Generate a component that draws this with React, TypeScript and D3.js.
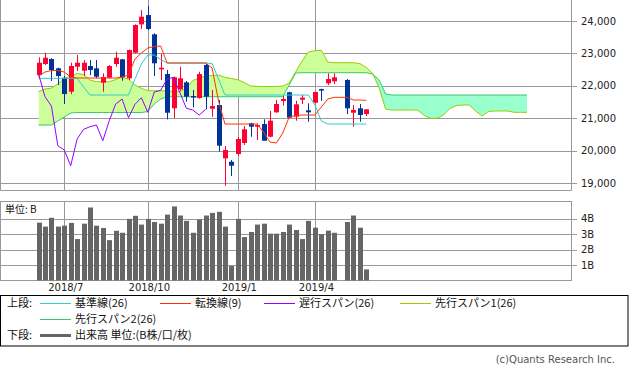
import React, { useRef, useEffect } from 'react';
import * as d3 from 'd3';

// weekly candles, index 0..51 (47 = holiday week with no trading)
const opens = [22332, 22672, 22826, 22539, 22249, 21817, 22589, 22465, 22610, 22539, 22095, 22249, 22672, 22817, 22231, 23021, 23897, 24184, 23588, 22508, 22363, 21305, 21891, 22107, 21684, 21623, 22641, 21293, 21407, 19762, 19657, 19895, 20234, 20842, 20737, 20820, 20428, 21181, 21530, 21799, 21046, 21570, 21243, 21478, 21900, 22076, 22138, null, 22178, 21169, 21305, 21129];
const highs = [22879, 23021, 22850, 22560, 22302, 22712, 22950, 22795, 22795, 22795, 22385, 22641, 23052, 22830, 23120, 23897, 24338, 24471, 23619, 22981, 22487, 22286, 22589, 22147, 21870, 22434, 22712, 21870, 21561, 20141, 19709, 20419, 20759, 20860, 20842, 20965, 21222, 21561, 21684, 21817, 21539, 21715, 21459, 21817, 21910, 22385, 22385, null, 22209, 21407, 21438, 21274];
const lows = [22262, 22641, 22147, 22024, 21438, 21737, 22456, 22302, 22332, 22231, 21817, 22231, 22589, 22157, 22178, 23002, 23752, 23721, 22302, 22178, 20965, 21006, 21848, 21509, 21336, 21601, 21274, 21046, 19966, 18916, 19216, 19833, 20172, 20428, 20327, 20305, 20410, 21170, 21385, 20996, 20922, 21438, 20891, 21459, 21539, 22024, 22055, null, 21129, 20737, 20891, 21067];
const closes = [22712, 22866, 22487, 22302, 21746, 22610, 22712, 22712, 22487, 22280, 22271, 22610, 22866, 22262, 23104, 23876, 24132, 23752, 22694, 22558, 21169, 22262, 22231, 21663, 21644, 22363, 21663, 21376, 20151, 20018, 19534, 20357, 20657, 20737, 20790, 20305, 20922, 21438, 21592, 21015, 21428, 21632, 21181, 21808, 21860, 22209, 22262, null, 21305, 21252, 21098, 21274];
const volumes = [3.76, 3.5, 4.07, 3.5, 3.56, 3.74, 2.69, 3.69, 4.74, 3.56, 3.41, 2.62, 3.23, 3.1, 4.0, 4.2, 3.63, 4.0, 3.8, 3.69, 4.28, 4.81, 4.22, 3.87, 3.1, 3.96, 4.22, 4.39, 4.46, 3.5, 0.94, 4.0, 2.82, 3.15, 3.63, 3.69, 3.04, 3.04, 3.15, 3.63, 3.28, 2.69, 3.87, 3.43, 3.0, 3.24, 3.1, null, 3.8, 4.22, 3.43, 0.72];

const tenkan = [22302, 22425, 22471, 22471, 22425, 22271, 22240, 22240, 22240, 22240, 22240, 22240, 22240, 22271, 22332, 22826, 23011, 23166, 23212, 23227, 22703, 22703, 22703, 22703, 22703, 22703, 22703, 22549, 21530, 20820, 20820, 20820, 20820, 20820, 20820, 20573, 20265, 20234, 20543, 21036, 21083, 21098, 21098, 21098, 21345, 21592, 21644, null, 21644, 21561, 21561, 21552];
const kijun = [22231, 22231, 22231, 22231, 22231, 22231, 22231, 21962, 21715, 21715, 21715, 21715, 21715, 21715, 21715, 22209, 22672, 22950, 22950, 22811, 22703, 22703, 22703, 22703, 22703, 22703, 22703, 22687, 22209, 21715, 21715, 21715, 21715, 21715, 21715, 21715, 21715, 21715, 21715, 21715, 21715, 21715, 21715, 21407, 20913, 20820, 20820, null, 20820, 20820, 20820, 20820];
// leading spans, index 0..76
const span1 = [21817, 21900, 21931, 22055, 22209, 22317, 22379, 22348, 22178, 22126, 22126, 22126, 22194, 22262, 22200, 22024, 21922, 21848, 21848, 21848, 21839, 21823, 21817, 21931, 22163, 22240, 22302, 22317, 22332, 22262, 22225, 22188, 22101, 21993, 21984, 21978, 21978, 21978, 21993, 22086, 22425, 22765, 23042, 23082, 23095, 22734, 22712, 22712, 22712, 22712, 22687, 22564, 22379, 21931, 21283, 21252, 21252, 21252, 21252, 21252, 21083, 20996, 20996, 21098, 21299, 21391, 21407, 21407, 21222, 21067, 21206, 21222, 21222, 21222, 21181, 21181, 21181];
const span2 = [20790, 20790, 20790, 20913, 21036, 21160, 21175, 21175, 21175, 21175, 21175, 21175, 21175, 21175, 21175, 21175, 21175, 21206, 21438, 21592, 21663, 21663, 21663, 21663, 21663, 21663, 21663, 21663, 21663, 21663, 21663, 21663, 21663, 21663, 21663, 21663, 21663, 21663, 21663, 22024, 22394, 22404, 22404, 22404, 22404, 22404, 22404, 22404, 22404, 22404, 22404, 22404, 22363, 22178, 21746, 21715, 21715, 21715, 21715, 21715, 21715, 21715, 21715, 21715, 21715, 21715, 21715, 21715, 21715, 21715, 21715, 21715, 21715, 21715, 21715, 21715, 21715];
const LAG = 25;
const chikou = closes.slice(LAG);

const priceTicks = [19000, 20000, 21000, 22000, 23000, 24000];
const volTicks = [1, 2, 3, 4];
const dateTicks = [4, 17, 31, 43];
const dateLabels = ['2018/7', '2018/10', '2019/1', '2019/4'];

const C = {
  grid: '#999999', up: '#FF0033', down: '#003399', tenkan: '#FF3300', kijun: '#33CCCC',
  chikou: '#9900FF', s1: '#99CC00', s2: '#33CC66', fillUp: '#CCFF99', fillDn: '#99FFCC', vol: '#666666',
};
const JP = '"Noto Sans CJK JP", sans-serif';
const NUM = '"DejaVu Sans", sans-serif';

const App: React.FC = () => {
  const svgRef = useRef<SVGSVGElement | null>(null);
  useEffect(() => {
    if (!svgRef.current) return;
    const svg = d3.select(svgRef.current);
    svg.selectAll('*').remove();
    const x = d3.scaleLinear().domain([-6, 83]).range([0, 572]);
    const y = d3.scaleLinear().domain([19000, 24000]).range([183, 21]);
    const yv = d3.scaleLinear().domain([0, 4]).range([280.5, 218.9]);
    const px = (v: number) => Math.round(v) + 0.5;

    // ---- main panel grid (no top border in the original)
    priceTicks.forEach(t => {
      svg.append('line').attr('x1', 0).attr('x2', 577).attr('y1', px(y(t))).attr('y2', px(y(t))).attr('stroke', C.grid);
      svg.append('text').attr('x', 581).attr('y', y(t)).attr('dy', '0.35em').attr('font-family', NUM).attr('font-size', 10).attr('fill', '#222').text(d3.format(',')(t));
    });
    dateTicks.forEach(i => {
      svg.append('line').attr('x1', px(x(i))).attr('x2', px(x(i))).attr('y1', 0).attr('y2', 190).attr('stroke', C.grid);
      svg.append('line').attr('x1', px(x(i))).attr('x2', px(x(i))).attr('y1', 201).attr('y2', 280).attr('stroke', C.grid);
    });
    svg.append('path').attr('d', 'M0.5,0V190.5H571.5V0').attr('fill', 'none').attr('stroke', C.grid);

    const defs = svg.append('defs');
    defs.append('clipPath').attr('id', 'plot').append('rect').attr('x', 1).attr('y', 0).attr('width', 570).attr('height', 190);

    // ---- cloud
    const idx = d3.range(span1.length);
    const cloud = d3.area<number>().x(i => x(i)).y0(i => y(span2[i])).y1(i => y(span1[i]));
    defs.append('clipPath').attr('id', 'above2').append('path')
      .attr('d', d3.area<number>().x(i => x(i)).y0(0).y1(i => y(span2[i]))(idx) as string);
    defs.append('clipPath').attr('id', 'below2').append('path')
      .attr('d', d3.area<number>().x(i => x(i)).y0(190).y1(i => y(span2[i]))(idx) as string);
    svg.append('path').attr('d', cloud(idx) as string).attr('fill', C.fillUp).attr('clip-path', 'url(#above2)');
    svg.append('path').attr('d', cloud(idx) as string).attr('fill', C.fillDn).attr('clip-path', 'url(#below2)');

    const plot = svg.append('g').attr('clip-path', 'url(#plot)');
    const drawLine = (vals: (number | null)[], color: string) => {
      const pts = vals.map((v, i) => [i, v] as [number, number | null]).filter(d => d[1] != null) as [number, number][];
      const line = d3.line<[number, number]>().x(d => x(d[0])).y(d => y(d[1]));
      plot.append('path').datum(pts).attr('d', line).attr('fill', 'none').attr('stroke', color).attr('stroke-width', 1);
    };
    drawLine(span1, C.s1);
    drawLine(span2, C.s2);

    // ---- candles
    closes.forEach((c, i) => {
      const o = opens[i], h = highs[i], l = lows[i];
      if (c == null || o == null || h == null || l == null) return;
      const col = c >= o ? C.up : C.down;
      const cx = px(x(i));
      plot.append('line').attr('x1', cx).attr('x2', cx).attr('y1', y(h)).attr('y2', y(l)).attr('stroke', col);
      const top = y(Math.max(o, c)), bot = y(Math.min(o, c));
      plot.append('rect').attr('x', Math.round(x(i)) - 2).attr('y', top).attr('width', 5).attr('height', Math.max(1.5, bot - top)).attr('fill', col);
    });

    drawLine(kijun, C.kijun);
    drawLine(tenkan, C.tenkan);
    drawLine(chikou, C.chikou);

    // ---- volume panel
    volTicks.forEach(t => {
      svg.append('line').attr('x1', 0).attr('x2', 577).attr('y1', px(yv(t))).attr('y2', px(yv(t))).attr('stroke', C.grid);
      svg.append('text').attr('x', 581).attr('y', yv(t)).attr('dy', '0.35em').attr('font-family', NUM).attr('font-size', 10).attr('fill', '#222').text(`${t}B`);
    });
    svg.append('rect').attr('x', 0.5).attr('y', 201.5).attr('width', 571).attr('height', 79).attr('fill', 'none').attr('stroke', C.grid);
    volumes.forEach((v, i) => {
      if (v == null) return;
      svg.append('rect').attr('x', Math.round(x(i)) - 2).attr('y', yv(v)).attr('width', 5).attr('height', yv(0) - yv(v)).attr('fill', C.vol);
    });
    svg.append('text').attr('x', 5).attr('y', 213).attr('font-family', JP).attr('font-size', 10).attr('fill', '#111').text('単位: B');

    dateTicks.forEach((i, k) => {
      svg.append('text').attr('x', x(i) + 1.5).attr('y', 291).attr('text-anchor', 'middle').attr('font-family', NUM).attr('font-size', 10).attr('fill', '#222').text(dateLabels[k]);
    });

    // ---- legend
    svg.append('rect').attr('x', 0.5).attr('y', 295.5).attr('width', 627.5).attr('height', 50.5).attr('fill', 'none').attr('stroke', '#000');
    const lg = svg.append('g').attr('font-family', JP).attr('font-size', 11).attr('fill', '#111');
    const item = (x1: number, yy: number, color: string, label: string, w = 1) => {
      lg.append('line').attr('x1', x1).attr('x2', x1 + 31).attr('y1', yy).attr('y2', yy).attr('stroke', color).attr('stroke-width', w);
      lg.append('text').attr('x', x1 + 35).attr('y', yy).attr('dy', '0.35em').text(label);
    };
    lg.append('text').attr('x', 7).attr('y', 303.5).attr('dy', '0.35em').text('上段:');
    item(40, 303.5, C.kijun, '基準線(26)');
    item(160, 303.5, C.tenkan, '転換線(9)');
    item(264, 303.5, C.chikou, '遅行スパン(26)');
    item(400, 303.5, C.s1, '先行スパン1(26)');
    item(40, 319.5, C.s2, '先行スパン2(26)');
    lg.append('text').attr('x', 7).attr('y', 335.5).attr('dy', '0.35em').text('下段:');
    item(40, 335.5, C.vol, '出来高 単位:(B株/口/枚)', 3);

    svg.append('text').attr('x', 615).attr('y', 363).attr('text-anchor', 'end').attr('font-family', NUM).attr('font-size', 10).attr('fill', '#555').text('(c)Quants Research Inc.');
  }, []);
  return (
    <svg ref={svgRef} width={633} height={371} viewBox="0 0 633 371"
      style={{ position: 'absolute', left: 0, top: 0, background: '#fff' }} />
  );
};
export default App;
